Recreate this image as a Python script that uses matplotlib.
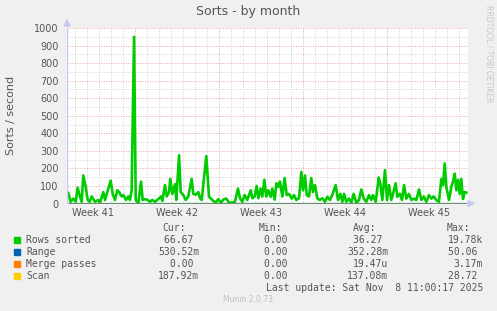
import matplotlib.pyplot as plt
from matplotlib.patches import Polygon, Rectangle
import numpy as np

# days relative to start of Week 42 (Mon Oct 13 2025)
days = [-5.56, -5.36, -5.14, -4.94, -4.78, -4.58, -4.44, -4.31, -4.11, -3.94,
        -3.78, -3.61, -3.33, -3.06, -2.92, -2.64, -2.5, -2.22, -2.03, -1.86,
        -1.67, -1.47, -1.31, -1.11, -0.97, -0.75, -0.56, -0.42, -0.28, -0.08,
        0.06, 0.28, 0.5, 0.64, 0.83, 1.06, 1.25, 1.44, 1.67, 1.94,
        2.17, 2.28, 2.5, 2.64, 2.83, 2.94, 3.11, 3.33, 3.44, 3.67,
        3.81, 4.03, 4.22, 4.44, 4.72, 4.86, 5.06, 5.28, 5.42, 5.56,
        5.94, 6.17, 6.44, 6.72, 6.94, 7.14, 7.42, 7.61, 7.83, 8.11,
        8.33, 8.58, 8.75, 8.94, 9.14, 9.36, 9.64, 9.78, 9.97, 10.14,
        10.28, 10.47, 10.61, 10.78, 10.94, 11.11, 11.31, 11.44, 11.64, 11.78,
        11.94, 12.08, 12.28, 12.47, 12.64, 12.83, 13.06, 13.25, 13.44, 13.67,
        13.86, 14.0, 14.17, 14.31, 14.5, 14.69, 14.83, 15.0, 15.19, 15.39,
        15.61, 15.83, 16.03, 16.25, 16.44, 16.72, 16.92, 17.11, 17.28, 17.42,
        17.61, 17.83, 18.03, 18.22, 18.44, 18.67, 18.86, 19.06, 19.28, 19.5,
        19.69, 19.83, 20.06, 20.31, 20.44, 20.61, 20.83, 21.0, 21.17, 21.36,
        21.5, 21.72, 21.86, 22.06, 22.25, 22.42, 22.61, 22.83, 23.03, 23.25,
        23.44, 23.67, 23.86, 24.06, 24.28, 24.5, 24.69, 24.89, 25.11, 25.33,
        25.53, 25.67, 25.81, 25.94, 26.17, 26.36, 26.5, 26.64, 26.78, 26.92,
        27.06, 27.19, 27.33, 27.47, 27.61]
rows_sorted = [60, 10, 28, 10, 90, 38, 10, 160, 95, 20,
               10, 40, 10, 20, 5, 65, 20, 85, 130, 55,
               20, 75, 65, 40, 48, 20, 40, 20, 75, 950,
               20, 5, 125, 20, 25, 20, 10, 20, 10, 25,
               40, 15, 105, 40, 65, 140, 55, 110, 20, 275,
               65, 48, 20, 40, 140, 55, 50, 65, 30, 20,
               270, 38, 20, 5, 25, 5, 25, 28, 5, 5,
               10, 85, 30, 10, 48, 20, 75, 30, 40, 100,
               30, 85, 40, 135, 40, 75, 38, 85, 22, 115,
               95, 125, 40, 145, 48, 55, 28, 48, 20, 30,
               180, 75, 160, 48, 40, 145, 65, 105, 30, 20,
               30, 10, 38, 20, 48, 105, 20, 55, 10, 55,
               10, 28, 5, 55, 5, 20, 80, 28, 10, 48,
               20, 48, 10, 148, 115, 20, 190, 20, 105, 20,
               55, 115, 38, 55, 20, 105, 28, 55, 20, 28,
               20, 80, 20, 40, 10, 48, 28, 40, 20, 10,
               140, 105, 228, 95, 20, 95, 125, 170, 75, 135,
               55, 140, 25, 65, 62]

# the other three series stay near zero on this scale
small_days = [-5.56, 0.0, 5.5, 7.8, 9.4, 11.2, 14.0, 20.0, 27.61]
range_vals = [0.4, 0.3, 0.5, 0.4, 0.6, 0.3, 0.4, 0.3, 0.53]
merge_vals = [0, 0, 0, 0, 0, 0, 0, 0, 0]
scan_vals = [0.1, 0.1, 0.2, 0.1, 0.1, 0.2, 0.1, 0.1, 0.19]

week_labels = ['Week 41', 'Week 42', 'Week 43', 'Week 44', 'Week 45']
week_starts = [-7, 0, 7, 14, 21]

legend_names = ['Rows sorted', 'Range', 'Merge passes', 'Scan']
legend_colors = ['#00cc00', '#0066b3', '#ff8000', '#ffcc00']
cur = ['66.67 ', '530.52m', '0.00 ', '187.92m']
mins = ['0.00 ', '0.00 ', '0.00 ', '0.00 ']
avgs = ['36.27 ', '352.28m', '19.47u', '137.08m']
maxs = ['19.78k', '50.06 ', '3.17m', '28.72 ']

W, H = 497, 311
txt = '#555555'
fig = plt.figure(figsize=(W / 100, H / 100), dpi=100, facecolor='#f0f0f0')
ax = fig.add_axes([67 / W, 1 - 203.5 / H, 401 / W, 175.5 / H])
ax.set_facecolor('white')

x0, x1 = -68 / 12, 333 / 12
ax.set_xlim(x0, x1)
ax.set_ylim(0, 1000)

# grid: gray minor, reddish major, both dotted
for d in range(-5, 28):
    c = '#e8a8a8' if d % 7 == 0 else '#d4d4d4'
    ax.axvline(d, color=c, lw=0.7, ls=(0, (1, 1.5)), zorder=0)
for v in range(50, 1001, 50):
    c = '#e8a8a8' if v % 100 == 0 else '#d4d4d4'
    ax.axhline(v, color=c, lw=0.7, ls=(0, (1, 1.5)), zorder=0)

ax.plot(days, rows_sorted, color=legend_colors[0], lw=1.9, zorder=3)
ax.plot(small_days, range_vals, color=legend_colors[1], lw=0.8, zorder=3)
ax.plot(small_days, merge_vals, color=legend_colors[2], lw=0.6, zorder=3, alpha=0.5)
ax.plot(small_days, scan_vals, color=legend_colors[3], lw=0.6, zorder=3, alpha=0.5)

for s in ax.spines.values():
    s.set_visible(False)
ax.axvline(x0, color='#c8c8f0', lw=1, zorder=4)
ax.axhline(0, color='#d8c8b0', lw=0.8, zorder=2)

ax.set_yticks(range(0, 1001, 100))
ax.set_yticklabels([str(v) for v in range(0, 1001, 100)])
ax.set_xticks([w + 3.5 for w in week_starts])
ax.set_xticklabels(week_labels)
ax.tick_params(axis='both', length=0, labelsize=7, colors=txt)
ax.tick_params(axis='y', pad=6)
ax.tick_params(axis='x', pad=3)
ax.set_ylabel('Sorts / second', fontsize=8, color=txt, labelpad=13)

# axis arrows
fig.patches.append(Polygon([[64 / W, 1 - 26 / H], [70 / W, 1 - 26 / H], [67 / W, 1 - 20 / H]],
                           closed=True, transform=fig.transFigure, color='#c8c8f0'))
fig.patches.append(Polygon([[468 / W, 1 - 200.5 / H], [468 / W, 1 - 206.5 / H], [474 / W, 1 - 203.5 / H]],
                           closed=True, transform=fig.transFigure, color='#c8c8f0'))

fig.text(248 / W, 1 - 12 / H, 'Sorts - by month', ha='center', va='center', fontsize=9, color=txt)
fig.text(489 / W, 1 - 5 / H, 'RRDTOOL / TOBI OETIKER', ha='center', va='top', rotation=270,
         fontsize=5.5, color='#c8c8c8')

mono = 'DejaVu Sans Mono'
ys = [239.7, 251.7, 263.7, 275.7]
hy = 227.7
for lab, xr in zip(['Cur:', 'Min:', 'Avg:', 'Max:'], [186, 282, 376, 470]):
    fig.text(xr / W, 1 - hy / H, lab, ha='right', va='center', fontsize=7, family=mono, color=txt)
for i, y in enumerate(ys):
    fig.patches.append(Rectangle((14 / W, 1 - (y + 3) / H), 6 / W, 6 / H,
                                 transform=fig.transFigure, color=legend_colors[i]))
    fig.text(26 / W, 1 - y / H, legend_names[i], ha='left', va='center', fontsize=7, family=mono, color=txt)
    for col, xr in zip([cur, mins, avgs, maxs], [199, 293, 388, 483]):
        fig.text(xr / W, 1 - y / H, col[i], ha='right', va='center', fontsize=7, family=mono, color=txt)
fig.text(483 / W, 1 - 287.7 / H, 'Last update: Sat Nov  8 11:00:17 2025', ha='right', va='center',
         fontsize=7, family=mono, color=txt)
fig.text(248 / W, 1 - 300 / H, 'Munin 2.0.73', ha='center', va='center', fontsize=5.5, color='#c0c0c0')

fig.savefig('out.png', dpi=100, facecolor=fig.get_facecolor())
